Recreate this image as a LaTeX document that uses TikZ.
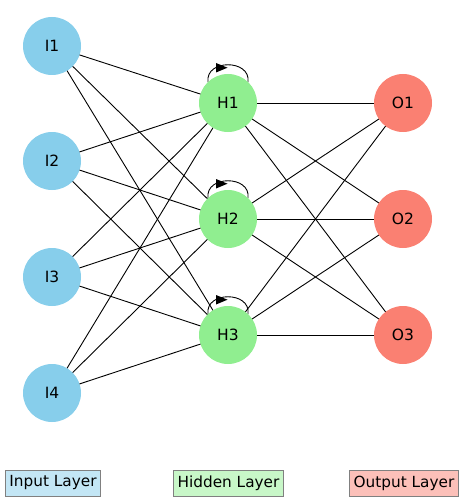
\documentclass[tikz,border=0pt]{standalone}
\usepackage{fontspec}
\setmainfont{DejaVu Sans}
\usetikzlibrary{calc}
\definecolor{inpc}{RGB}{135,206,235}
\definecolor{hidc}{RGB}{144,238,144}
\definecolor{outc}{RGB}{250,128,114}
\definecolor{inpl}{RGB}{195,230,245}
\definecolor{hidl}{RGB}{200,247,200}
\definecolor{outl}{RGB}{252,192,185}
\tikzset{
  neuron/.style={circle,minimum size=58pt,inner sep=0pt,font=\fontsize{15.5}{16}\selectfont},
  inn/.style={neuron,fill=inpc},
  hid/.style={neuron,fill=hidc},
  outn/.style={neuron,fill=outc},
  edge/.style={draw=black,line width=0.9pt},
  legbox/.style={draw=gray,line width=0.8pt,minimum height=26pt,inner xsep=4pt,inner ysep=0pt,font=\fontsize{15.3}{16}\selectfont},
  selfloop/.style={draw=black,line width=0.9pt},
  loophead/.style={fill=black}
}
\begin{document}
\begin{tikzpicture}[x=1pt,y=-1pt]
\useasboundingbox (0,0) rectangle (463,500);
% node positions
\coordinate (pI1) at (52,46);
\coordinate (pI2) at (52,161);
\coordinate (pI3) at (52,277);
\coordinate (pI4) at (52,393);
\coordinate (pH1) at (228,103);
\coordinate (pH2) at (228,219);
\coordinate (pH3) at (228,335);
\coordinate (pO1) at (403,103);
\coordinate (pO2) at (403,219);
\coordinate (pO3) at (403,335);
% edges
\foreach \i in {1,2,3,4}{
  \foreach \h in {1,2,3}{
    \draw[edge] (pI\i) -- (pH\h);
  }
}
\foreach \h in {1,2,3}{
  \foreach \o in {1,2,3}{
    \draw[edge] (pH\h) -- (pO\o);
  }
  \draw[selfloop] ($(pH\h)+(-20,-21)$) .. controls ($(pH\h)+(-23,-44)$) and ($(pH\h)+(23,-44)$) .. ($(pH\h)+(20,-21)$);
  \fill[loophead] ($(pH\h)+(-12,-40)$) -- ($(pH\h)+(-12,-30.5)$) -- ($(pH\h)+(-0.5,-35.3)$) -- cycle;
}
% nodes
\node[inn] (I1) at (pI1) {I1};
\node[inn] (I2) at (pI2) {I2};
\node[inn] (I3) at (pI3) {I3};
\node[inn] (I4) at (pI4) {I4};
\node[hid] (H1) at (pH1) {H1};
\node[hid] (H2) at (pH2) {H2};
\node[hid] (H3) at (pH3) {H3};
\node[outn] (O1) at (pO1) {O1};
\node[outn] (O2) at (pO2) {O2};
\node[outn] (O3) at (pO3) {O3};
% legend
\node[legbox,fill=inpl] (L1) at (53,483) {Input Layer};
\node[legbox,fill=hidl] (L2) at (228.5,483) {Hidden Layer};
\node[legbox,fill=outl] (L3) at (404,483) {Output Layer};
\end{tikzpicture}
\end{document}
